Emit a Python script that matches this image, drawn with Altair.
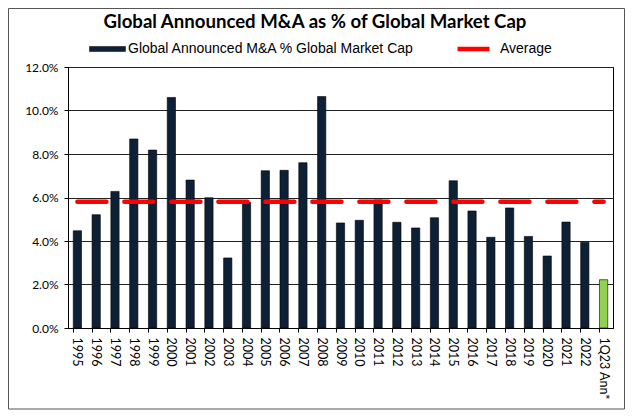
import altair as alt
import pandas as pd

# ---- data ----
years = ["1995", "1996", "1997", "1998", "1999", "2000", "2001", "2002", "2003",
         "2004", "2005", "2006", "2007", "2008", "2009", "2010", "2011", "2012",
         "2013", "2014", "2015", "2016", "2017", "2018", "2019", "2020", "2021",
         "2022", "1Q23 Ann*"]
ma_pct = [4.47, 5.21, 6.28, 8.69, 8.18, 10.60, 6.80, 5.99, 3.22,
          5.78, 7.23, 7.25, 7.60, 10.64, 4.83, 4.95, 5.89, 4.86,
          4.60, 5.07, 6.77, 5.38, 4.17, 5.52, 4.21, 3.31, 4.87,
          3.94, 2.22]
average_pct = 5.8
SERIES = "Global Announced M&A % Global Market Cap"
PARTIAL = "1Q23 annualized"
series = [SERIES] * 28 + [PARTIAL]
y_ticks = [0.0, 0.02, 0.04, 0.06, 0.08, 0.10, 0.12]
TITLE = "Global Announced M&A as % of Global Market Cap"

df = pd.DataFrame({
    "year": years,
    "value": [v / 100 for v in ma_pct],
    "series": series,
    "avg": [average_pct / 100] * len(years),
    "avg_label": ["Average"] * len(years),
})

W, H = 545, 261
PAD = {"left": 60, "top": 59, "right": 12, "bottom": 82}

x_enc = alt.X(
    "year:N", sort=years,
    scale=alt.Scale(paddingInner=0.56, paddingOuter=0.28),
    axis=alt.Axis(title=None, labelAngle=90, labelFont="Lato", labelFontSize=12.5,
                  labelColor="black", tickColor="black", domainColor="black",
                  tickSize=4, labelPadding=5, bandPosition=0, grid=False),
)
y_scale = alt.Scale(domain=[0, 0.12], nice=False)
y_axis = alt.Axis(title=None, values=y_ticks, format=".1%", labelFont="Lato",
                  labelFontSize=12, labelColor="black", gridColor="#222222",
                  gridWidth=1, tickSize=4, tickColor="black", domainColor="black",
                  labelPadding=6)

bars = alt.Chart(df).mark_bar(stroke="black", strokeWidth=0.6).encode(
    x=x_enc,
    y=alt.Y("value:Q", scale=y_scale, axis=y_axis),
    color=alt.Color(
        "series:N",
        scale=alt.Scale(domain=[SERIES, PARTIAL], range=["#0e2036", "#92d050"]),
        legend=alt.Legend(values=[SERIES], orient="none", legendX=21, legendY=-36.5,
                          title=None, symbolType="M-1,-0.14H1V0.14H-1Z",
                          symbolSize=1296, labelFont="Liberation Sans",
                          labelFontSize=14, labelColor="black", labelOffset=2,
                          labelLimit=0,
                          symbolStrokeColor="black", symbolStrokeWidth=0.5,
                          padding=0),
    ),
)

avg_line = alt.Chart(df).mark_line(strokeWidth=4.5, strokeDash=[29, 18],
                                   strokeCap="round").encode(
    x=x_enc,
    y=alt.Y("avg:Q", scale=y_scale, axis=y_axis),
    stroke=alt.Stroke(
        "avg_label:N",
        scale=alt.Scale(domain=["Average"], range=["#ff0000"]),
        legend=alt.Legend(orient="none", legendX=387, legendY=-36.5, title=None,
                          symbolType="stroke", symbolSize=1024,
                          symbolStrokeWidth=4.5, symbolDash=[1, 0],
                          labelFont="Liberation Sans", labelFontSize=14,
                          labelColor="black", labelOffset=8, labelLimit=0,
                          padding=0),
    ),
)

one = pd.DataFrame({"k": [0]})

frame = alt.Chart(one).mark_rect(
    fill=None, stroke="#555555", strokeWidth=1
).encode(
    x=alt.value(-PAD["left"] + 0.5),
    x2=alt.value(W + PAD["right"] - 0.5),
    y=alt.value(-PAD["top"] + 0.5),
    y2=alt.value(H + PAD["bottom"] - 1),
)

title = alt.Chart(one).mark_text(
    text=TITLE, font="Lato", fontSize=18.6, fontWeight="bold", color="black",
    align="center", baseline="alphabetic",
).encode(x=alt.value(247), y=alt.value(-39))

chart = alt.layer(frame, bars, avg_line, title).properties(
    width=W, height=H,
    autosize=alt.AutoSizeParams(type="none"),
    padding=PAD,
    background="white",
).configure_view(stroke="black", strokeWidth=1)

chart.save("out.html", embed_options={"renderer": "svg", "actions": False})
